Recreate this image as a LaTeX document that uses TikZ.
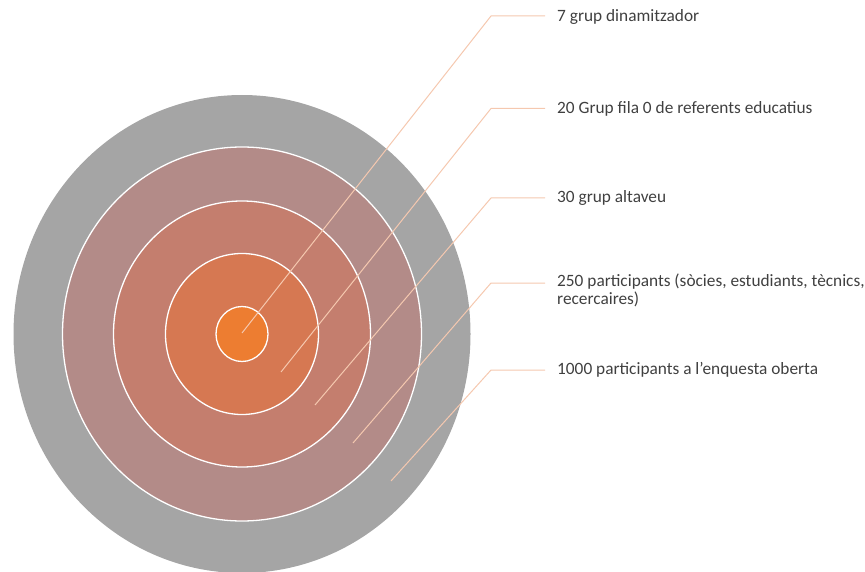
\documentclass[tikz,border=0pt]{standalone}
\usepackage{fontspec}
\setmainfont{Carlito}
\usetikzlibrary{shapes.geometric}
\definecolor{ringA}{HTML}{A5A5A5}
\definecolor{ringB}{HTML}{B38B88}
\definecolor{ringC}{HTML}{C47E6E}
\definecolor{ringD}{HTML}{D67852}
\definecolor{ringE}{HTML}{ED7D31}
\definecolor{leader}{HTML}{F5C8AF}
\definecolor{txt}{HTML}{404040}
\begin{document}
\begin{tikzpicture}[x=1pt,y=-1pt,
  ring/.style={ellipse, inner sep=0pt, outer sep=0pt},
  ringline/.style={draw=white, line width=1.3pt},
  lead/.style={draw=leader, line width=1pt},
  lab/.style={anchor=base west, inner sep=0pt, text=txt, font=\fontsize{17.3}{17.5}\selectfont, align=left}]
\useasboundingbox (0,0) rectangle (865,572);
\node[ring, fill=ringA, minimum width=457pt, minimum height=478pt] (r5) at (242,334) {};
\node[ring, ringline, fill=ringB, minimum width=359pt, minimum height=374pt] (r4) at (242,334) {};
\node[ring, ringline, fill=ringC, minimum width=257pt, minimum height=266pt] (r3) at (242,334) {};
\node[ring, ringline, fill=ringD, minimum width=153pt, minimum height=161pt] (r2) at (242,334) {};
\node[ring, ringline, fill=ringE, minimum width=52pt, minimum height=55pt] (r1) at (242,334) {};

\coordinate (s1) at (242,333);
\coordinate (s2) at (281,372);
\coordinate (s3) at (315,405);
\coordinate (s4) at (353,443);
\coordinate (s5) at (391,481);
\coordinate (k1) at (491,16);
\coordinate (k2) at (491,108.5);
\coordinate (k3) at (491,198);
\coordinate (k4) at (491,283);
\coordinate (k5) at (491,370);
\coordinate (e1) at (545,16);
\coordinate (e2) at (545,108.5);
\coordinate (e3) at (545,198);
\coordinate (e4) at (545,283);
\coordinate (e5) at (545,370);

\draw[lead] (s1) -- (k1) -- (e1);
\draw[lead] (s2) -- (k2) -- (e2);
\draw[lead] (s3) -- (k3) -- (e3);
\draw[lead] (s4) -- (k4) -- (e4);
\draw[lead] (s5) -- (k5) -- (e5);

\node[lab] (l1) at (557,21.5) {7 grup dinamitzador};
\node[lab] (l2) at (557,113.5) {20 Grup fila 0 de referents educatius};
\node[lab] (l3) at (557,202.5) {30 grup altaveu};
\node[lab] (l4) at (557,304.5) {250 participants (sòcies, estudiants, tècnics,\\recercaires)};
\node[lab] (l5) at (557,374.5) {1000 participants a l’enquesta oberta};
\end{tikzpicture}
\end{document}
